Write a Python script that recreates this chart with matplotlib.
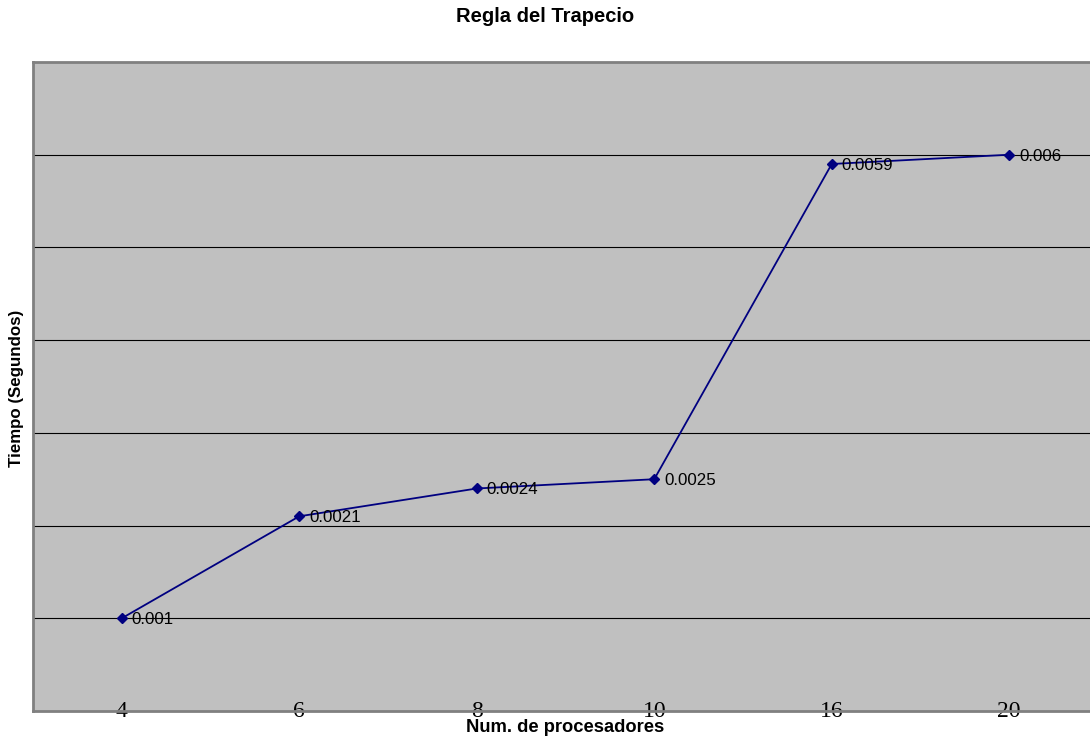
import numpy as np
import matplotlib.pyplot as plt

# tiempos de la regla del trapecio segun numero de procesadores
procesadores = ["4", "6", "8", "10", "16", "20"]
tiempos = [0.001, 0.0021, 0.0024, 0.0025, 0.0059, 0.006]
etiquetas = ["0.001", "0.0021", "0.0024", "0.0025", "0.0059", "0.006"]

fig = plt.figure(figsize=(10.9, 7.38), dpi=100)
ax = fig.add_axes([33 / 1090, 27 / 738, 1065 / 1090, 649 / 738])
ax.set_facecolor("#c0c0c0")

pos = np.arange(len(procesadores))
ax.plot(pos, tiempos, color="#000080", lw=1.3, marker="D", ms=5.5,
        mfc="#000080", mec="#000080", zorder=3)

for x, y, t in zip(pos, tiempos, etiquetas):
    ax.annotate(t, (x, y), xytext=(7, -1), textcoords="offset points",
                va="center", ha="left", fontsize=12.2,
                family="Liberation Sans", zorder=4)

ax.set_xlim(-0.5, len(procesadores) - 0.5)
ax.set_ylim(0, 0.007)
ax.set_yticks(np.arange(0.001, 0.007, 0.001))
ax.yaxis.grid(True, color="black", lw=0.8)
ax.set_axisbelow(True)
ax.tick_params(axis="y", length=0, labelleft=False)

ax.set_xticks(pos)
ax.set_xticklabels(procesadores, family="Liberation Serif", fontsize=17)
ax.tick_params(axis="x", length=0, pad=-7)

for s in ax.spines.values():
    s.set_color("#808080")
    s.set_linewidth(2)

fig.text(0.5, 1 - 17 / 738, "Regla del Trapecio", ha="center", va="center",
         fontsize=14.5, fontweight="bold", family="Liberation Sans")
fig.text(565 / 1090, 1 - 727 / 738, "Num. de procesadores", ha="center", va="center",
         fontsize=13.2, fontweight="bold", family="Liberation Sans")
fig.text(17 / 1090, 1 - 388 / 738, "Tiempo (Segundos)", ha="center", va="center",
         rotation=90, fontsize=12.2, fontweight="bold", family="Liberation Sans")

fig.savefig("out.png", dpi=100)
